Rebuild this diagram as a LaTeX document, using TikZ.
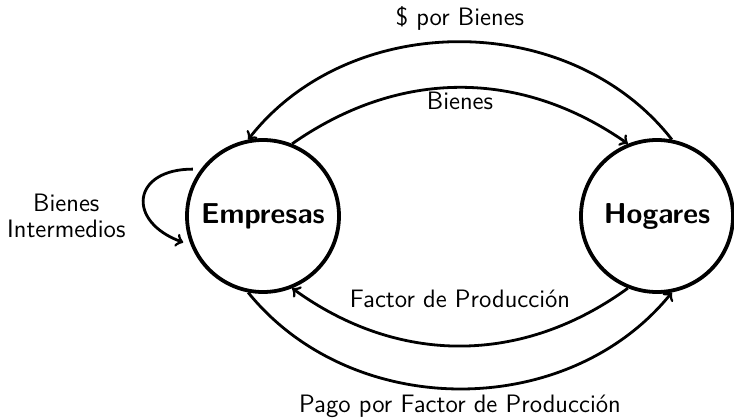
\documentclass[tikz,border=0pt]{standalone}
\usepackage{fontspec}
\begin{document}
\begin{tikzpicture}[x=0.5pt,y=0.5pt,font=\sffamily,
  agent/.style={circle, draw, line width=1.9pt, minimum size=76pt, inner sep=0pt, font=\sffamily\bfseries\Large},
  flow/.style={->, line width=1.4pt},
  lbl/.style={font=\sffamily\fontsize{12.6}{15}\selectfont}]
\useasboundingbox (0,0) rectangle (734,419);
\node[agent] (E) at (263,203) {Empresas};
\node[agent] (H) at (657,203) {Hogares};
\draw[flow] (H.79) to[out=128,in=52] node[midway,above=1.5pt,lbl] (l1) {\$ por Bienes} (E.101);
\draw[flow] (E.68) to[out=35,in=145] node[midway,below=-2pt,lbl] (l2) {Bienes} (H.112);
\draw[flow] (H.248) to[out=216,in=-36] node[midway,above=15pt,lbl] (l3) {Factor de Producción} (E.292);
\draw[flow] (E.259) to[out=-51,in=231] node[midway,below=-1pt,lbl] (l4) {Pago por Factor de Producción} (H.281);
\draw[flow, shorten <=4pt, shorten >=4pt] (E.143) to[out=180,in=160,looseness=2.3] node[midway,left=6pt,yshift=-9pt,lbl,align=center] (l5) {Bienes\\[-2pt]Intermedios} (E.202);
\end{tikzpicture}
\end{document}
